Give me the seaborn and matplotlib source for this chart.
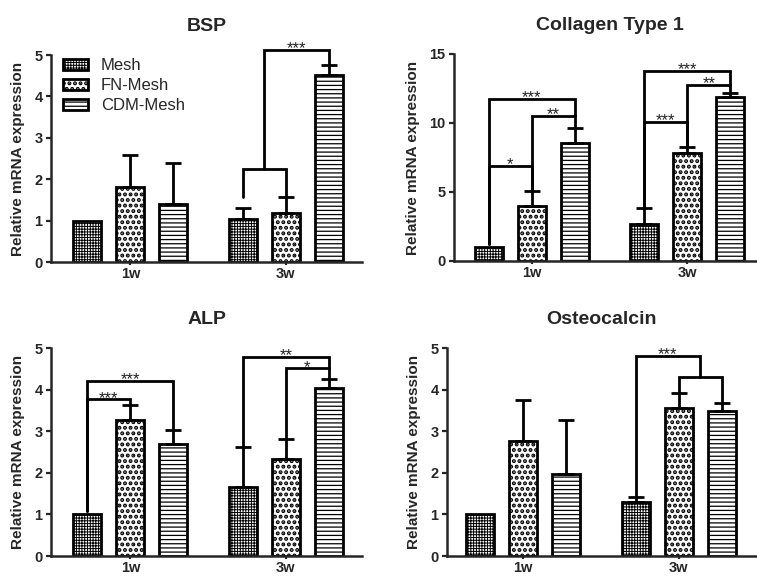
import matplotlib
matplotlib.use('Agg')
import matplotlib.pyplot as plt
import matplotlib.patches as mpatches
import numpy as np
import pandas as pd
import seaborn as sns

#%%
'''DATA'''
weeks = ['1w', '3w']
groups = ['Mesh', 'FN-Mesh', 'CDM-Mesh']

# order: Mesh 1w, FN 1w, CDM 1w, Mesh 3w, FN 3w, CDM 3w
bsp_mean = [1.00, 1.80, 1.40, 1.03, 1.19, 4.52]
bsp_err = [0.00, 0.78, 0.98, 0.27, 0.39, 0.23]

col1_mean = [1.00, 3.99, 8.53, 2.70, 7.85, 11.91]
col1_err = [0.00, 1.06, 1.08, 1.12, 0.44, 0.24]

alp_mean = [1.00, 3.27, 2.70, 1.67, 2.33, 4.05]
alp_err = [0.00, 0.35, 0.32, 0.95, 0.49, 0.20]

ocn_mean = [1.00, 2.76, 1.98, 1.31, 3.56, 3.48]
ocn_err = [0.00, 0.99, 1.30, 0.12, 0.35, 0.20]

# significance: (week, left, right, bracket height, left leg bottom, right leg bottom, label)
# a tuple as left/right means the middle of a sub-bracket over those two bars
bsp_sig = [('3w', 0, 1, 2.24, 1.58, 1.58, ''),
           ('3w', (0, 1), 2, 5.12, 2.24, 4.78, '***')]
col1_sig = [('1w', 0, 1, 6.9, 1.2, 5.05, '*'),
            ('1w', 1, 2, 10.5, 5.05, 9.61, '**'),
            ('1w', 0, 2, 11.74, 1.2, 10.5, '***'),
            ('3w', 0, 1, 10.1, 3.82, 8.29, '***'),
            ('3w', 1, 2, 12.75, 8.29, 12.15, '**'),
            ('3w', 0, 2, 13.8, 3.82, 12.75, '***')]
alp_sig = [('1w', 0, 1, 3.77, 1.09, 3.62, '***'),
           ('1w', 0, 2, 4.21, 1.09, 3.02, '***'),
           ('3w', 1, 2, 4.51, 2.82, 4.27, '*'),
           ('3w', 0, 2, 4.79, 2.62, 4.51, '**')]
ocn_sig = [('3w', 1, 2, 4.31, 3.93, 3.69, ''),
           ('3w', 0, (1, 2), 4.81, 1.43, 4.31, '***')]

hatches = ['++++++', '...', '----']
hatch_lw = [0.7, 2.0, 0.9]

#%%
'''STYLE'''
sns.set_style('ticks')
plt.rcParams['font.family'] = ['Liberation Sans', 'DejaVu Sans']
plt.rcParams['hatch.color'] = 'black'
plt.rcParams['hatch.linewidth'] = 0.8

LW = 2.0

fig = plt.figure(figsize=(7.57, 5.76), dpi=100)


def set_hatch(patch, g):
    patch.set_hatch(hatches[g])
    if hasattr(patch, 'set_hatch_linewidth'):
        patch.set_hatch_linewidth(hatch_lw[g])


def plotPanel(rect, title, means, errs, sig, yticks, xlim, legend=False, title_x=0.5):
    ax = fig.add_axes(rect)
    df = pd.DataFrame({'week': np.repeat(weeks, 3),
                       'group': groups * 2,
                       'value': means})
    sns.barplot(data=df, x='week', y='value', hue='group',
                order=weeks, hue_order=groups,
                palette=['white'] * 3, saturation=1,
                edgecolor='black', linewidth=LW,
                width=0.83, gap=0.35, errorbar=None,
                legend=False, ax=ax)

    #bar centres [week][group]
    centers = [[0.0] * 3 for _ in weeks]
    for g, cont in enumerate(ax.containers):
        for w, bar in enumerate(cont):
            set_hatch(bar, g)
            centers[w][g] = bar.get_x() + bar.get_width() / 2

    #error bars (upper only)
    for i, (m, e) in enumerate(zip(means, errs)):
        if e <= 0:
            continue
        w, g = divmod(i, 3)
        ax.errorbar(centers[w][g], m, yerr=[[0], [e]], fmt='none',
                    ecolor='black', elinewidth=LW, capsize=5.8,
                    capthick=LW, zorder=3)

    #significance brackets
    def xpos(ref, w):
        if isinstance(ref, tuple):
            return (centers[w][ref[0]] + centers[w][ref[1]]) / 2
        return centers[w][ref]

    for week, left, right, h, yl, yr, label in sig:
        w = weeks.index(week)
        x1, x2 = xpos(left, w), xpos(right, w)
        ax.plot([x1, x1, x2, x2], [yl, h, h, yr], color='black', lw=LW,
                clip_on=False, solid_joinstyle='miter', zorder=4)
        if label:
            ax.annotate(label, ((x1 + x2) / 2, h), xytext=(0, -2.5),
                        textcoords='offset points', ha='center',
                        va='baseline', fontsize=12, color='#222222',
                        annotation_clip=False)

    #axes settings
    sns.despine(ax=ax)
    for s in ['left', 'bottom']:
        ax.spines[s].set_linewidth(1.8)
    ax.set_xlim(*xlim)
    ax.set_ylim(yticks[0], yticks[-1])
    ax.set_yticks(yticks)
    ax.tick_params(axis='y', direction='out', length=3.6, width=1.6,
                   pad=2.5, labelsize=10.5)
    ax.tick_params(axis='x', direction='out', length=2.5, width=1.6,
                   pad=1, labelsize=10.5)
    for lab in ax.get_xticklabels() + ax.get_yticklabels():
        lab.set_fontweight('bold')
    ax.set_xlabel('')
    ax.set_ylabel('Relative mRNA expression', fontsize=11,
                  fontweight='bold', labelpad=7)
    ax.set_title(title, fontsize=14, fontweight='bold', pad=17, x=title_x)

    if legend:
        handles = [mpatches.Patch(facecolor='white', edgecolor='black',
                                  lw=LW, hatch=hatches[g], label=groups[g])
                   for g in range(3)]
        leg = ax.legend(handles=handles, loc='upper left',
                        bbox_to_anchor=(0.04, 0.985), frameon=False,
                        fontsize=12, handlelength=1.5, handleheight=0.65,
                        handletextpad=0.75, labelspacing=0.3,
                        borderpad=0, borderaxespad=0)
        for g, p in enumerate(leg.get_patches()):
            set_hatch(p, g)
    return ax


plotPanel([0.0674, 0.5451, 0.4108, 0.3594], 'BSP', bsp_mean, bsp_err,
          bsp_sig, [0, 1, 2, 3, 4, 5], (-0.51, 1.49), legend=True)
plotPanel([0.5997, 0.5469, 0.3986, 0.3594], 'Collagen Type 1', col1_mean,
          col1_err, col1_sig, [0, 5, 10, 15], (-0.50, 1.44), title_x=0.517)
plotPanel([0.0674, 0.0347, 0.4108, 0.3610], 'ALP', alp_mean, alp_err,
          alp_sig, [0, 1, 2, 3, 4, 5], (-0.51, 1.49))
plotPanel([0.5905, 0.0347, 0.4087, 0.3610], 'Osteocalcin', ocn_mean,
          ocn_err, ocn_sig, [0, 1, 2, 3, 4, 5], (-0.49, 1.50))

fig.savefig('out.png', dpi=100)
